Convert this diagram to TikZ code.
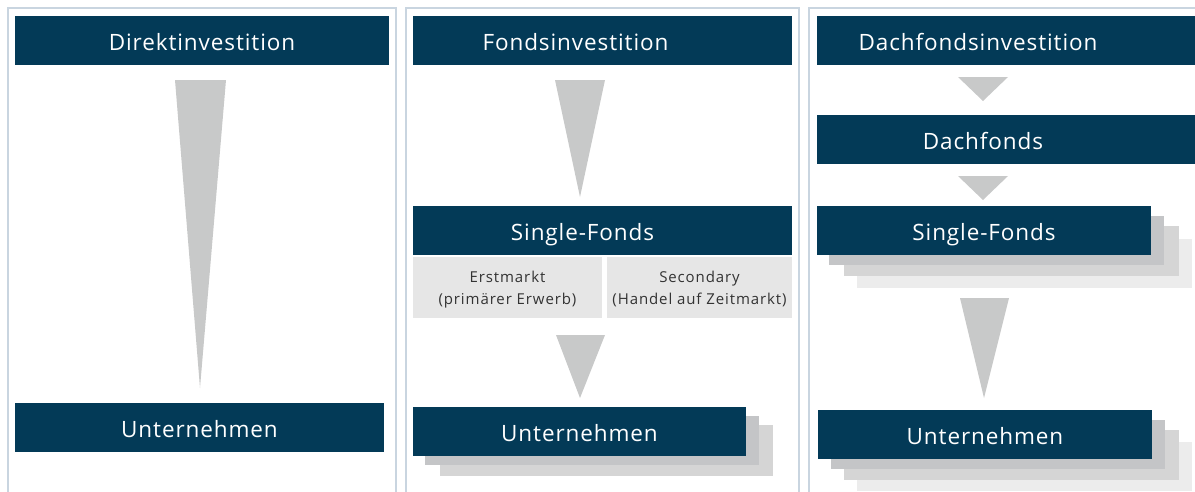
\documentclass[tikz,border=0pt]{standalone}
\usepackage{fontspec}
\setmainfont{Open Sans}
\newfontfamily\boxfont[LetterSpace=4]{Open Sans}
\newfontfamily\infofont[LetterSpace=6]{Open Sans}
\usetikzlibrary{positioning,calc}

\definecolor{navy}{HTML}{033A57}
\definecolor{framegrey}{HTML}{C9D5E0}
\definecolor{wedgegrey}{HTML}{C8C9C9}
\definecolor{infogrey}{HTML}{E6E6E6}
\definecolor{shadowA}{HTML}{C4C5C7}
\definecolor{shadowB}{HTML}{D5D5D5}
\definecolor{shadowC}{HTML}{ECECEC}

\tikzset{
	bluebox/.style={fill=navy, text=white, anchor=north west, minimum height=49pt, inner sep=0pt, outer sep=0pt, text height=19pt, text depth=0pt, font=\boxfont\fontsize{22.5}{26}\selectfont},
	boxtext/.style={text=white, inner sep=0pt, text height=19pt, text depth=0pt, font=\boxfont\fontsize{22.5}{26}\selectfont},
	infobox/.style={fill=infogrey, text=black!80, anchor=north west, minimum height=61pt, inner sep=0pt, outer sep=0pt, align=center, text depth=0pt, font=\infofont\fontsize{15}{22}\selectfont},
	panel/.style={draw=framegrey, line width=1.5pt},
	wedge/.style={fill=wedgegrey},
}

\begin{document}
\begin{tikzpicture}[x=1pt, y=-1pt]
	\useasboundingbox (0,0) rectangle (1195,491);
	\clip (0,0) rectangle (1195,491);

	% frames
	\draw[panel] (8,8) rectangle (396,520);
	\draw[panel] (406,8) rectangle (799,520);
	\draw[panel] (809,8) rectangle (1230,520);

	% Direktinvestition
	\node[bluebox, minimum width=374pt] (direkt) at (15,16) {Direktinvestition};
	\fill[wedge] (175,80) -- (226,80) -- (200,388) -- cycle;
	\node[bluebox, minimum width=369pt] (untA) at (15,403) {Unternehmen};

	% Fondsinvestition
	\node[bluebox, minimum width=379pt] (fonds) at (413,16) {};
	\node[boxtext] (fondstxt) at ($(fonds.center)+(-27,0)$) {Fondsinvestition};
	\fill[wedge] (555,80) -- (605,80) -- (580,197) -- cycle;
	\node[bluebox, minimum width=379pt] (singleB) at (413,206) {};
	\node[boxtext] (singleBtxt) at ($(singleB.center)+(-20,0)$) {Single-Fonds};
	\node[infobox, minimum width=189pt] (erst) at (413,257) {Erstmarkt\\(primärer Erwerb)};
	\node[infobox, minimum width=185pt] (second) at (607,257) {Secondary\\(Handel auf Zeitmarkt)};
	\fill[wedge] (556,335) -- (605,335) -- (580,398) -- cycle;
	\fill[shadowB] (440,425) rectangle (773,476);
	\fill[shadowA] (425,416) rectangle (759,465);
	\node[bluebox, minimum width=333pt] (untB) at (413,407) {Unternehmen};

	% Dachfondsinvestition
	\node[bluebox, minimum width=400pt] (dach) at (817,16) {};
	\node[boxtext] (dachtxt) at (978,40.5) {Dachfondsinvestition};
	\fill[wedge] (958,77) -- (1008,77) -- (983,101) -- cycle;
	\node[bluebox, minimum width=400pt] (dachfonds) at (817,115) {};
	\node[boxtext] (dachfondstxt) at (983,139.5) {Dachfonds};
	\fill[wedge] (958,176) -- (1008,176) -- (983,200) -- cycle;
	\fill[shadowC] (857,239) rectangle (1192,288);
	\fill[shadowB] (844,226) rectangle (1179,276);
	\fill[shadowA] (829,216) rectangle (1164,265);
	\node[bluebox, minimum width=334pt] (singleC) at (817,206) {Single-Fonds};
	\fill[wedge] (960,298) -- (1009,298) -- (984,398) -- cycle;
	\fill[shadowC] (857,442) rectangle (1192,491);
	\fill[shadowB] (844,430) rectangle (1179,480);
	\fill[shadowA] (831,420) rectangle (1165,469);
	\node[bluebox, minimum width=334pt] (untC) at (818,410) {Unternehmen};
\end{tikzpicture}
\end{document}
